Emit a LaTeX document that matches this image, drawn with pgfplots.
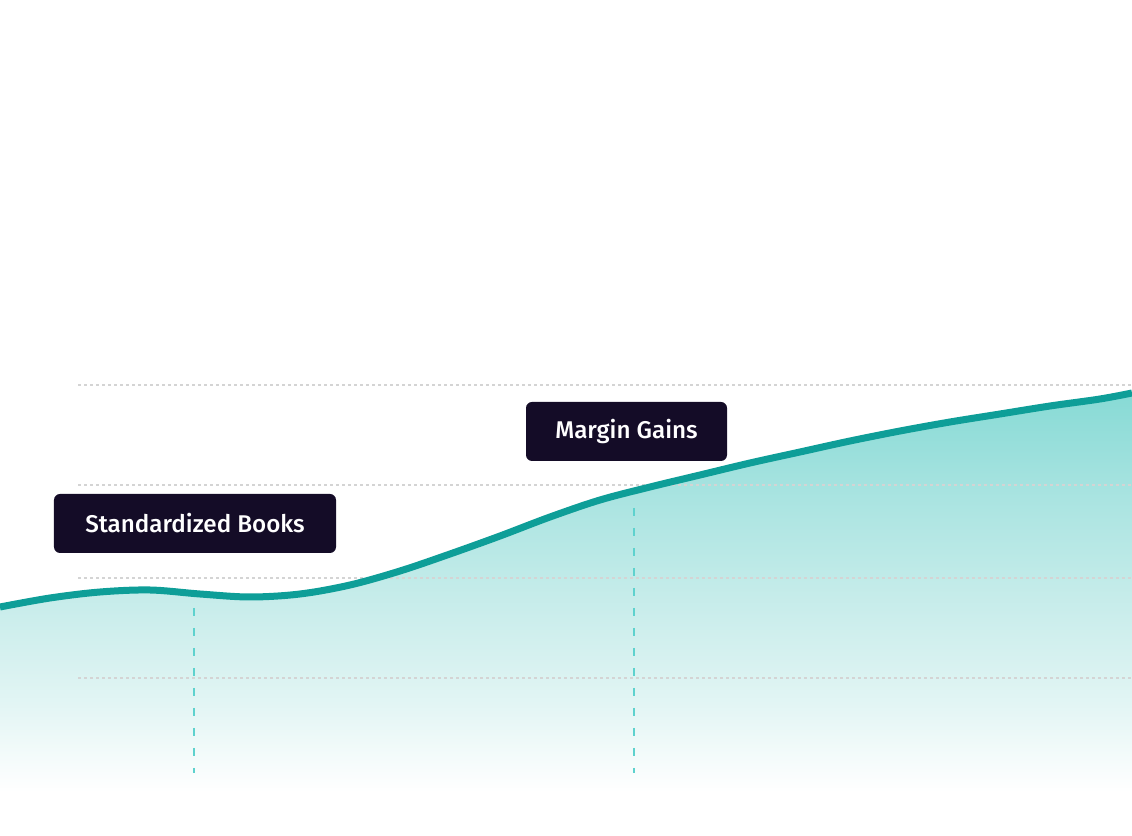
\documentclass[border=0pt]{standalone}
\usepackage{fontspec}
\usepackage{pgfplots}
\pgfplotsset{compat=1.18}
\newfontfamily\boxfont{Fira Sans}[UprightFont={* Medium}]
\definecolor{lineteal}{HTML}{0E9E98}
\definecolor{dashteal}{HTML}{5ED2CE}
\definecolor{gridgray}{HTML}{D4D4D4}
\definecolor{boxnavy}{HTML}{140C27}
\pgfdeclareverticalshading{areafade}{100bp}{%
  color(0bp)=(white); color(30bp)=(white);
  color(40bp)=(rgb,255:red,226;green,245;blue,244);
  color(52bp)=(rgb,255:red,198;green,236;blue,234);
  color(63bp)=(rgb,255:red,170;green,228;blue,225);
  color(75bp)=(rgb,255:red,135;green,218;blue,213);
  color(100bp)=(rgb,255:red,135;green,218;blue,213)}
\pgfplotstableread{
x y
0 229
50 238
100 244
150 246
200 242
250 239
300 242
350 251
400 265
450 282
500 300
550 319
600 336
650 349
700 361
750 373
800 384
850 395
900 405
950 414
1000 422
1050 430
1100 437
1132 443
}\curvedata
\begin{document}
\begin{tikzpicture}
\useasboundingbox (0,0) rectangle (566pt,418pt);
\begin{axis}[
  at={(0,0)}, anchor=south west,
  scale only axis, width=566pt, height=418pt,
  xmin=0, xmax=1132, ymin=0, ymax=836,
  hide axis,
]
% gradient area
\addplot[draw=none, shading=areafade, smooth, tension=0.55] table[x=x,y=y] {\curvedata} \closedcycle;
% dotted grid lines
\addplot[gridgray, line width=0.8pt, dash pattern=on 1.4pt off 1.6pt] coordinates {(78,451) (1132,451)};
\addplot[gridgray, line width=0.8pt, dash pattern=on 1.4pt off 1.6pt] coordinates {(78,351) (1132,351)};
\addplot[gridgray, line width=0.8pt, dash pattern=on 1.4pt off 1.6pt] coordinates {(78,258) (1132,258)};
\addplot[gridgray, line width=0.8pt, dash pattern=on 1.4pt off 1.6pt] coordinates {(78,158) (1132,158)};
% vertical dashed markers
\addplot[dashteal, line width=1pt, dash pattern=on 4pt off 6pt] coordinates {(194,228) (194,63)};
\addplot[dashteal, line width=1pt, dash pattern=on 4pt off 6pt] coordinates {(634,328) (634,63)};
% main curve
\addplot[lineteal, line width=3.5pt, smooth, tension=0.55] table[x=x,y=y] {\curvedata};
% annotation boxes
\node[fill=boxnavy, rounded corners=3pt, minimum width=141pt, minimum height=29.5pt, inner sep=0pt,
  text=white, font=\boxfont\fontsize{12.1}{14}\selectfont] at (axis cs:195,312.5) {Standardized Books};
\node[fill=boxnavy, rounded corners=3pt, minimum width=100.5pt, minimum height=29.5pt, inner sep=0pt,
  text=white, font=\boxfont\fontsize{12.1}{14}\selectfont] at (axis cs:626.5,404.5) {Margin Gains};
\end{axis}
\end{tikzpicture}
\end{document}
